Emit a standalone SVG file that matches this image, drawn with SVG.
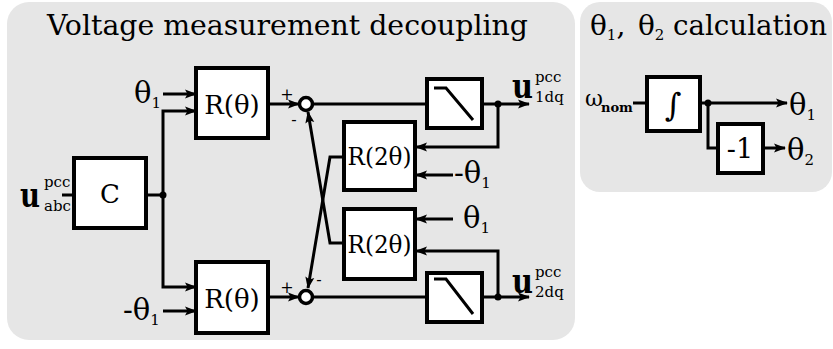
<svg xmlns="http://www.w3.org/2000/svg" width="833" height="349" viewBox="0 0 833 349">
<style>
.panel{fill:#e6e6e6;stroke:none}
.blk{fill:#ffffff;stroke:#000;stroke-width:4}
.ln{fill:none;stroke:#000;stroke-width:3}
.arr{fill:none;stroke:#000;stroke-width:3;marker-end:url(#ah)}
.t{font-family:"DejaVu Serif","Liberation Serif",serif;fill:#000}
.title{font-size:28px}
.lbl{font-size:26px}
.var{font-size:29px}
.sub{font-size:15px}
.vec{font-size:34px;font-weight:bold}
.dot{fill:#000}
</style>
<defs>
<marker id="ah" viewBox="0 0 12 10" refX="11" refY="5" markerWidth="12" markerHeight="10" markerUnits="userSpaceOnUse" orient="auto">
<path d="M0,0.5 L12,5 L0,9.5 L2.5,5 z" fill="#000"/>
</marker>
</defs>

<rect class="panel" x="7" y="2" width="568" height="338" rx="22"/>
<rect class="panel" x="580" y="2" width="252" height="190" rx="20"/>

<text class="t title" x="47" y="35" textLength="481" lengthAdjust="spacingAndGlyphs">Voltage measurement decoupling</text>
<g id="title2">
<text class="t title" x="590" y="35">θ<tspan class="sub" dy="5">1</tspan><tspan dy="-5">,</tspan></text>
<text class="t title" x="638" y="35">θ<tspan class="sub" dy="5">2</tspan></text>
<text class="t title" x="673" y="35" textLength="154" lengthAdjust="spacingAndGlyphs">calculation</text>
</g>

<g id="connectors">
<line class="ln" x1="62" y1="195" x2="74" y2="195"/>
<polyline class="ln" points="146,195 163,195"/>
<polyline class="arr" points="163,195 163,111 196,111"/>
<polyline class="arr" points="163,195 163,287 196,287"/>
<line class="arr" x1="163" y1="94" x2="196" y2="94"/>
<line class="arr" x1="163" y1="311" x2="196" y2="311"/>
<line class="arr" x1="268" y1="104" x2="299" y2="104"/>
<line class="arr" x1="268" y1="297" x2="299" y2="297"/>
<line class="ln" x1="313" y1="104" x2="427" y2="104"/>
<line class="ln" x1="313" y1="297" x2="427" y2="297"/>
<line class="arr" x1="482" y1="104" x2="529" y2="104"/>
<line class="arr" x1="482" y1="297" x2="529" y2="297"/>
<polyline class="arr" points="498,104 498,147 416,147"/>
<polyline class="arr" points="498,297 498,251 416,251"/>
<line class="arr" x1="453" y1="175" x2="416" y2="175"/>
<line class="arr" x1="453" y1="219" x2="416" y2="219"/>
<polyline class="arr" points="344,157 330,157 308,288"/>
<polyline class="arr" points="344,243 330,243 308,112"/>
<line class="ln" x1="633" y1="103" x2="647" y2="103"/>
<line class="arr" x1="700" y1="103" x2="787" y2="103"/>
<polyline class="ln" points="708,103 708,148 718,148"/>
<line class="arr" x1="763" y1="148" x2="785" y2="148"/>
</g>

<g id="junctions">
<circle class="dot" cx="163" cy="195" r="3.5"/>
<circle class="dot" cx="498" cy="104" r="3.5"/>
<circle class="dot" cx="498" cy="297" r="3.5"/>
<circle class="dot" cx="708" cy="103" r="3.5"/>
</g>

<g id="in-uabc">
<text class="t vec" x="20" y="207" textLength="20" lengthAdjust="spacingAndGlyphs">u</text>
<text class="t sub" x="44" y="187">pcc</text>
<text class="t sub" x="44" y="211">abc</text>
</g>

<g id="C">
<rect class="blk" x="74" y="158" width="72" height="70"/>
<text class="t lbl" x="110" y="203" text-anchor="middle">C</text>
</g>

<g id="Rtheta1">
<rect class="blk" x="196" y="68" width="72" height="70"/>
<text class="t lbl" x="232" y="114" text-anchor="middle">R(θ)</text>
</g>
<g id="Rtheta2">
<rect class="blk" x="196" y="262" width="72" height="71"/>
<text class="t lbl" x="232" y="308" text-anchor="middle">R(θ)</text>
</g>

<g id="theta-in-top">
<text class="t var" x="134" y="103">θ<tspan class="sub" dy="5">1</tspan></text>
</g>
<g id="theta-in-bot">
<text class="t var" x="123" y="320">-θ<tspan class="sub" dy="5">1</tspan></text>
</g>

<g id="sum1">
<circle cx="306" cy="104" r="6.5" fill="#fff" stroke="#000" stroke-width="3.5"/>
<text class="t" x="287" y="100" font-size="16" text-anchor="middle">+</text>
<text class="t" x="294" y="125" font-size="16" text-anchor="middle">-</text>
</g>
<g id="sum2">
<circle cx="306" cy="297" r="6.5" fill="#fff" stroke="#000" stroke-width="3.5"/>
<text class="t" x="287" y="293" font-size="16" text-anchor="middle">+</text>
<text class="t" x="319" y="285" font-size="16" text-anchor="middle">-</text>
</g>

<g id="LPF1">
<rect class="blk" x="427" y="79" width="55" height="49"/>
<polyline class="ln" points="434,88 446,88 473,120" stroke-width="2.5"/>
</g>
<g id="LPF2">
<rect class="blk" x="427" y="273" width="55" height="49"/>
<polyline class="ln" points="434,279 446,279 473,314" stroke-width="2.5"/>
</g>

<g id="R2theta1">
<rect class="blk" x="344" y="122" width="71" height="68"/>
<text class="t" x="379.5" y="165" font-size="24" text-anchor="middle" textLength="64" lengthAdjust="spacingAndGlyphs">R(2θ)</text>
</g>
<g id="R2theta2">
<rect class="blk" x="344" y="209" width="71" height="70"/>
<text class="t" x="379.5" y="253" font-size="24" text-anchor="middle" textLength="64" lengthAdjust="spacingAndGlyphs">R(2θ)</text>
</g>

<g id="theta-r1">
<text class="t var" x="454" y="183">-θ<tspan class="sub" dy="5">1</tspan></text>
</g>
<g id="theta-r2">
<text class="t var" x="463" y="228">θ<tspan class="sub" dy="5">1</tspan></text>
</g>

<g id="out-u1">
<text class="t vec" x="512" y="98" textLength="21" lengthAdjust="spacingAndGlyphs">u</text>
<text class="t sub" x="535" y="82">pcc</text>
<text class="t sub" x="535" y="102">1dq</text>
</g>
<g id="out-u2">
<text class="t vec" x="512" y="293" textLength="21" lengthAdjust="spacingAndGlyphs">u</text>
<text class="t sub" x="535" y="277">pcc</text>
<text class="t sub" x="535" y="297">2dq</text>
</g>

<g id="omega">
<text class="t" x="585" y="106" font-size="22">ω</text>
<text class="t" x="601" y="112" font-size="13" font-weight="bold">nom</text>
</g>
<g id="integ">
<rect class="blk" x="647" y="77" width="53" height="54"/>
<text class="t" x="673" y="116" font-size="32" text-anchor="middle">∫</text>
</g>
<g id="neg1">
<rect class="blk" x="718" y="124" width="45" height="49"/>
<text class="t" x="740" y="158" font-size="27" text-anchor="middle">-1</text>
</g>
<g id="th1-out">
<text class="t var" x="789" y="115">θ<tspan class="sub" dy="5">1</tspan></text>
</g>
<g id="th2-out">
<text class="t var" x="787" y="160">θ<tspan class="sub" dy="5">2</tspan></text>
</g>
</svg>
